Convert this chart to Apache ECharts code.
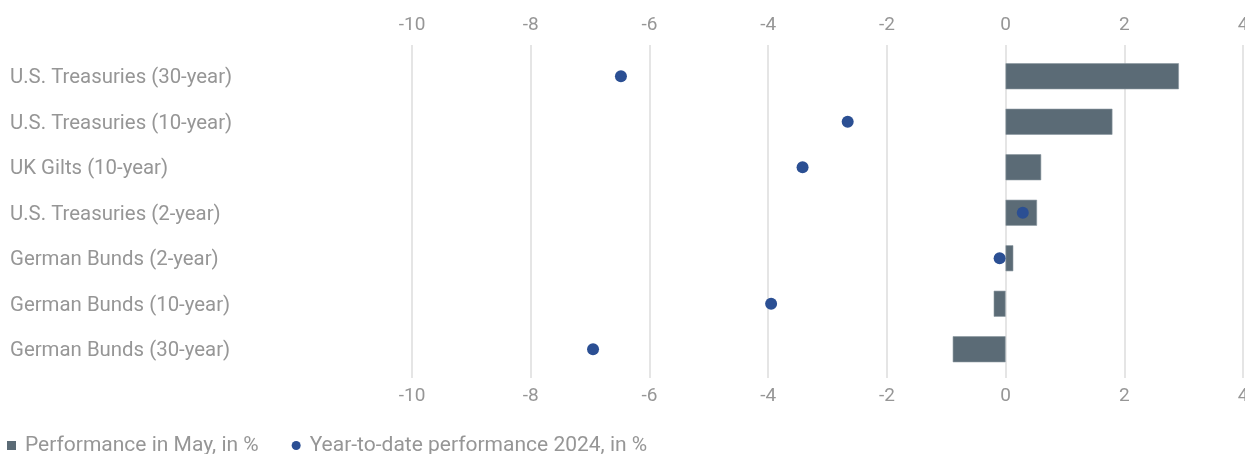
<!DOCTYPE html>
<html>
<head>
<meta charset="utf-8">
<script src="https://cdn.jsdelivr.net/npm/echarts@6/dist/echarts.min.js"></script>
<style>html,body{margin:0;padding:0;background:#fff}#c{width:1245px;height:454px}</style>
</head>
<body>
<div id="c"></div>
<script>
const categories = [
  "U.S. Treasuries (30-year)",
  "U.S. Treasuries (10-year)",
  "UK Gilts (10-year)",
  "U.S. Treasuries (2-year)",
  "German Bunds (2-year)",
  "German Bunds (10-year)",
  "German Bunds (30-year)"
];
const mayPerformance = [2.92, 1.80, 0.60, 0.53, 0.13, -0.20, -0.89];
const ytdPerformance = [-6.48, -2.66, -3.42, 0.29, -0.10, -3.95, -6.95];
const seriesNames = ["Performance in May, in %", "Year-to-date performance 2024, in %"];

const FONT = "Roboto";
const GREY = "#969696";
const chart = echarts.init(document.getElementById('c'), null, {renderer: 'canvas'});
const xCommon = {type: 'value', min: -10, max: 4, interval: 2};
chart.setOption({
  animation: false,
  textStyle: {fontFamily: FONT},
  grid: [
    {left: 412, right: 2, top: 45, bottom: 76, containLabel: false, outerBoundsMode: 'none'},
    {left: 412, right: 2, top: 53.5, bottom: 82, containLabel: false, outerBoundsMode: 'none'}
  ],
  xAxis: [
    Object.assign({}, xCommon, {gridIndex: 0, position: 'top',
      axisLine: {show: false}, axisTick: {show: false},
      axisLabel: {color: GREY, fontSize: 19, margin: 10, fontFamily: FONT},
      splitLine: {show: true, lineStyle: {color: '#dcdcdc', width: 1.5}}}),
    Object.assign({}, xCommon, {gridIndex: 0, position: 'bottom',
      axisLine: {show: false}, axisTick: {show: false},
      axisLabel: {color: GREY, fontSize: 19, margin: 9, fontFamily: FONT},
      splitLine: {show: false}}),
    Object.assign({}, xCommon, {gridIndex: 1, show: false, splitLine: {show: false}})
  ],
  yAxis: [
    {type: 'category', gridIndex: 0, show: false, data: categories},
    {type: 'category', gridIndex: 1, data: categories, inverse: true,
      axisLine: {show: false}, axisTick: {show: false},
      axisLabel: {color: GREY, fontSize: 20.4, align: 'left', margin: 402, fontFamily: FONT,
        formatter: v => '{a|' + v + '}',
        rich: {a: {color: GREY, fontSize: 20.4, fontFamily: FONT, padding: [4, 0, 0, 0]}}},
      splitLine: {show: false}}
  ],
  legend: {
    left: 2, top: 430, itemGap: 33, itemWidth: 9, itemHeight: 9,
    itemStyle: {borderWidth: 0},
    textStyle: {color: GREY, fontSize: 21, fontFamily: FONT, padding: [0, 0, 0, 4]},
    data: [
      {name: seriesNames[0], icon: 'rect'},
      {name: seriesNames[1], icon: 'circle', itemStyle: {borderWidth: 0}}
    ]
  },
  series: [
    {name: seriesNames[0], type: 'bar', xAxisIndex: 2, yAxisIndex: 1,
      data: mayPerformance, barWidth: 26,
      itemStyle: {color: '#5b6b76', borderColor: '#8a979f', borderWidth: 0.6}},
    {name: seriesNames[1], type: 'scatter', xAxisIndex: 2, yAxisIndex: 1,
      data: ytdPerformance, symbolSize: 12, z: 5,
      itemStyle: {color: '#2b4f93', opacity: 1}}
  ]
});
</script>
</body>
</html>
